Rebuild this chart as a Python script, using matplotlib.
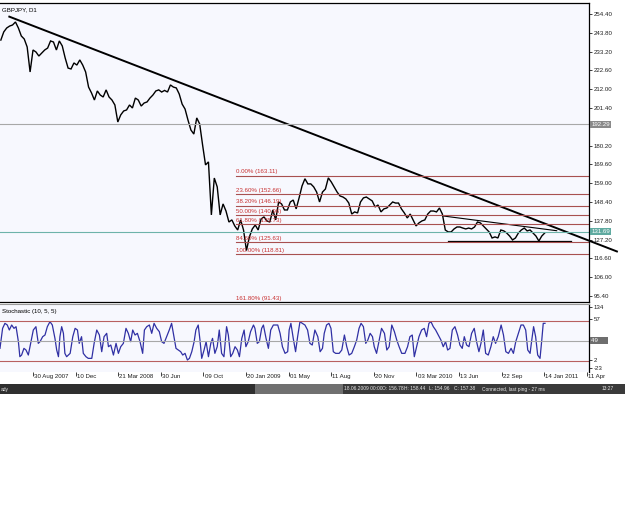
import numpy as np
import matplotlib.pyplot as plt
from matplotlib import font_manager

# GBPJPY weekly closes, first value = 11 weeks before 30 Aug 2007
price = [239.7, 244.3, 246.5, 247.6, 248.2, 249.9, 246.5, 242.0, 240.3, 235.8,
         221.7, 234.1, 233.0, 230.7, 232.4, 234.1, 235.2, 239.2, 238.6, 234.1,
         239.2, 236.4, 229.6, 223.9, 223.4, 226.8, 225.6, 228.5, 225.6, 221.7,
         213.2, 209.9, 205.9, 211.0, 208.7, 207.6, 211.6, 207.6, 205.9, 203.1,
         193.5, 197.5, 199.7, 200.3, 203.1, 201.4, 207.0, 205.9, 202.5, 204.2,
         204.8, 207.0, 208.7, 211.0, 211.6, 210.4, 211.3, 210.4, 214.4, 213.2,
         212.7, 209.3, 203.6, 200.8, 194.6, 189.0, 186.7, 195.8, 192.4, 180.5,
         169.3, 171.0, 141.1, 161.9, 156.9, 141.1, 147.3, 143.3, 137.1, 138.3,
         134.9, 132.6, 138.3, 132.6, 121.0, 128.7, 133.2, 135.4, 132.6, 138.8,
         140.0, 137.7, 137.1, 143.9, 138.3, 148.4, 147.3, 143.9, 143.9, 148.4,
         149.5, 144.5, 150.7, 157.4, 161.5, 158.6, 158.6, 156.9, 154.0, 148.4,
         154.0, 155.7, 162.0, 159.7, 156.9, 154.0, 151.8, 151.2, 150.1, 147.8,
         141.6, 142.8, 142.2, 148.4, 150.7, 151.2, 150.1, 149.0, 145.6, 146.7,
         142.8, 144.5, 145.0, 146.7, 148.4, 147.8, 147.8, 144.5, 142.2, 139.4,
         141.6, 138.3, 134.9, 136.6, 137.7, 138.3, 141.6, 143.3, 143.3, 142.8,
         145.0, 141.6, 132.6, 131.5, 131.5, 133.2, 134.3, 134.3, 133.7, 133.2,
         133.7, 133.2, 134.3, 137.1, 136.6, 134.9, 133.2, 131.5, 128.1, 128.7,
         128.1, 132.6, 132.1, 130.9, 129.2, 127.0, 128.1, 130.9, 132.6, 133.7,
         132.1, 132.6, 130.9, 129.2, 126.4, 129.2, 130.9]
weeks = np.arange(len(price)) - 11

# stochastic (10,5,5) main line, week position / value
stoch_week = [-11.3, -10.4, -9.6, -8.8, -8.1, -7.3, -6.5, -5.8, -5.0, -4.5, -3.9, -3.1, -2.4, -1.6, -0.8,
              0.1, 1.0, 1.8, 2.4, 3.3, 4.1, 4.9, 5.8, 6.6, 7.5, 8.1, 8.7, 9.2, 9.8, 10.4,
              10.9, 11.5, 12.7, 13.6, 14.4, 15.2, 15.8, 16.6, 17.2, 18.1, 18.9, 20.1, 20.9, 21.8, 22.7,
              23.5, 24.3, 25.2, 25.8, 26.6, 27.5, 28.4, 29.2, 30.0, 30.9, 31.8, 32.6, 33.4, 34.1, 34.9,
              35.7, 36.6, 37.5, 38.1, 38.9, 39.8, 40.6, 41.4, 42.3, 43.2, 44.0, 44.8, 45.7, 46.6, 47.4,
              48.2, 48.9, 49.7, 50.5, 51.2, 52.0, 52.8, 53.5, 54.3, 55.1, 55.7, 56.5, 57.1, 57.7, 58.5,
              59.2, 60.0, 60.8, 61.4, 62.2, 63.0, 63.7, 64.5, 65.3, 66.2, 66.8, 67.6, 68.3, 69.1, 69.9,
              70.6, 71.4, 72.2, 72.8, 73.6, 74.4, 75.4, 75.9, 76.7, 77.4, 78.2, 78.8, 79.7, 80.5, 81.3,
              82.2, 83.7, 84.5, 85.3, 86.2, 87.1, 87.6, 88.2, 89.0, 89.8, 90.5, 91.3, 92.1, 93.0, 93.9,
              94.7, 95.5, 96.4, 97.4, 98.2, 99.0, 99.6, 100.4, 101.2, 101.9, 102.7, 103.5, 104.7, 105.6, 106.5,
              107.3, 108.1, 109.0, 109.9, 110.7, 111.5, 112.2, 113.0, 113.8, 114.5, 115.3, 116.1, 116.7, 117.5, 118.3,
              119.2, 120.2, 121.0, 121.8, 122.7, 123.6, 124.4, 125.2, 126.1, 127.2, 128.1, 128.9, 129.7, 130.4, 131.2,
              132.0, 132.9, 133.8, 134.6, 135.4, 136.1, 136.9, 137.7, 138.6, 139.5, 140.3, 141.1, 141.8, 142.6, 143.4,
              144.3, 145.2, 146.0, 146.8, 147.5, 148.3, 149.1, 150.0, 150.9, 151.7, 152.5, 153.2, 154.0, 154.8, 155.7,
              156.6, 157.4, 158.2, 159.1, 160.1, 160.9, 161.7, 162.6, 163.5, 164.3, 165.1, 166.0, 166.9, 167.7, 168.5,
              169.2, 170.0, 170.5, 171.2, 171.9, 172.6, 173.4, 174.0, 174.5, 175.1]
stoch_val = [38.5, 68.5, 76, 73.5, 66, 73.5, 68.5, 71, 48.5, 26, 28.5, 38.5, 36, 28.5, 46,
             66, 71, 46, 48.5, 56, 58.5, 71, 78.5, 73.5, 53.5, 36, 26, 56, 71, 61,
             31, 26, 31, 56, 68.5, 66, 46, 56, 31, 26, 23.5, 23.5, 46, 66, 58.5,
             33.5, 56, 61, 41, 43.5, 28.5, 46, 31, 41, 46, 68.5, 61, 48.5, 66, 58.5,
             61, 48.5, 31, 66, 71, 73.5, 61, 76, 68.5, 63.5, 48.5, 46, 56, 66, 76,
             56, 38.5, 36, 33.5, 28.5, 31, 21, 23.5, 33.5, 48.5, 66, 73.5, 51, 23.5, 36,
             48.5, 26, 46, 53.5, 31, 41, 66, 31, 26, 71, 58.5, 26, 31, 41, 36,
             26, 53.5, 66, 41, 48.5, 63.5, 73.5, 68.5, 46, 48.5, 68.5, 73.5, 53.5, 38.5, 66,
             73.5, 73.5, 61, 41, 31, 33.5, 66, 76, 53.5, 33.5, 56, 78.5, 76, 73.5, 66,
             46, 43.5, 66, 56, 33.5, 38.5, 61, 73.5, 76, 68.5, 33.5, 31, 31, 36, 58.5,
             41, 28.5, 31, 41, 51, 68.5, 76, 71, 46, 51, 61, 56, 41, 31, 48.5,
             68.5, 61, 36, 41, 73.5, 63.5, 51, 41, 31, 31, 41, 56, 58.5, 26, 41,
             56, 66, 68.5, 56, 76, 78.5, 71, 66, 58.5, 51, 41, 48.5, 36, 38.5, 66,
             71, 58.5, 43.5, 38.5, 56, 43.5, 41, 61, 68.5, 48.5, 33.5, 46, 66, 31, 28.5,
             41, 56, 46, 56, 73.5, 58.5, 33.5, 31, 38.5, 31, 48.5, 61, 73.5, 73.5, 66,
             36, 31, 48.5, 71, 56, 28.5, 23.5, 51, 76, 76]

date_labels = ['30 Aug 2007', '10 Dec', '21 Mar 2008', '30 Jun', '09 Oct', '20 Jan 2009', '01 May',
               '11 Aug', '20 Nov', '03 Mar 2010', '13 Jun', '22 Sep', '14 Jan 2011', '11 Apr']
date_ticks = np.arange(len(date_labels)) * 14.57

price_ticks = [254.40, 243.80, 233.20, 222.60, 212.00, 201.40, 190.80, 180.20,
               169.60, 159.00, 148.40, 137.80, 127.20, 116.60, 106.00, 95.40]

# fibonacci retracement from the Jan 2009 low to the Aug 2009 high
fib_high = 163.11
fib_low = 118.81
fib_pcts = [0.0, 23.6, 38.2, 50.0, 61.8, 84.6, 100.0, 161.8]
fib_prices = [fib_high - p / 100 * (fib_high - fib_low) for p in fib_pcts]

# drawn lines (week, price)
trend_x = [-8.1, 199.7]
trend_y = [252.9, 120.5]
wedge_x = [140.3, 179.1]
wedge_y = [140.5, 132.2]
support_x = [142.0, 183.9]
support_y = [126.6, 126.6]
hline_grey = 192.29
last_price = 131.69

stoch_levels = [80, 50, 20]
stoch_tick_vals = [100.5, 82.6, 21.1, 9.1]
stoch_tick_labels = ['134', '57', '2', '-23']

status_x = [1, 344, 382, 404, 429, 454, 482, 602]
status_text = ['ady', '18.06.2009 00:00', 'O: 156.78', 'H: 158.44', 'L: 154.96', 'C: 157.38',
               'Connected, last ping - 27 ms', '13:27']

installed = {f.name for f in font_manager.fontManager.ttflist}
narrow = 'Liberation Sans Narrow' if 'Liberation Sans Narrow' in installed else 'Liberation Sans'
plt.rcParams['font.family'] = [narrow, 'DejaVu Sans']

W, H = 625, 517
fig = plt.figure(figsize=(W / 100, H / 100), dpi=100)
fig.patch.set_facecolor('white')
FS = 4.4
bg = '#f7f8fe'
ink = '#202020'


def box(x0, y0, x1, y1):
    return [x0 / W, 1 - y1 / H, (x1 - x0) / W, (y1 - y0) / H]


ax = fig.add_axes(box(0, 3, 589, 302))
ax.set_facecolor(bg)
ax.plot(weeks, price, color='black', lw=1.0, solid_joinstyle='miter')
ax.plot(trend_x, trend_y, color='black', lw=1.4, clip_on=False)
ax.plot(wedge_x, wedge_y, color='black', lw=0.8)
ax.plot(support_x, support_y, color='black', lw=0.9)
ax.axhline(hline_grey, color='#a8a8a8', lw=0.8)
ax.axhline(last_price, color='#6db3aa', lw=0.8)
for p, v in zip(fib_pcts, fib_prices):
    ax.plot([69.4, 195], [v, v], color='#a85050', lw=0.8)
    ax.annotate('%.2f%% (%.2f)' % (p, v), (69.4, v), xytext=(0, 1.2), textcoords='offset points',
                color='#c83030', fontsize=FS, ha='left', va='bottom', annotation_clip=False)
ax.set_xlim(-11.29, 190.15)
ax.set_ylim(92.0, 260.6)
ax.yaxis.tick_right()
ax.set_yticks(price_ticks)
ax.set_yticklabels(['' if t == 190.80 else '%.2f' % t for t in price_ticks])
ax.tick_params(axis='y', labelsize=FS, length=2.2, width=0.6, pad=1, colors=ink)
ax.set_xticks([])
ax.spines['left'].set_visible(False)
for s in ['top', 'right', 'bottom']:
    ax.spines[s].set_linewidth(0.9)
ax.text(0.003, 0.985, 'GBPJPY, D1', transform=ax.transAxes, fontsize=FS, va='top', ha='left')
ytr = ax.get_yaxis_transform()
ax.text(1.004, hline_grey, '192.29', transform=ytr, fontsize=FS, color='white', va='center', ha='left',
        bbox=dict(boxstyle='square,pad=0.15', fc='#8a8a8a', ec='none'), clip_on=False, zorder=5)
ax.text(1.004, last_price, '131.69', transform=ytr, fontsize=FS, color='white', va='center', ha='left',
        bbox=dict(boxstyle='square,pad=0.15', fc='#5faaa0', ec='none'), clip_on=False, zorder=5)

sx = fig.add_axes(box(0, 304, 589, 372))
sx.set_facecolor(bg)
sx.plot(stoch_week, stoch_val, color='#3030a4', lw=0.9)
for lv, c in zip(stoch_levels, ['#b86060', '#a8a8a8', '#b86060']):
    sx.axhline(lv, color=c, lw=0.8)
sx.set_xlim(-11.29, 190.15)
sx.set_ylim(3.05, 105.0)
sx.yaxis.tick_right()
sx.set_yticks(stoch_tick_vals)
sx.set_yticklabels(stoch_tick_labels)
sx.tick_params(axis='y', labelsize=FS, length=2.2, width=0.6, pad=1, colors=ink)
sx.set_xticks(date_ticks)
sx.set_xticklabels([])
sx.tick_params(axis='x', length=3, width=0.6, colors=ink)
for d, lbl in zip(date_ticks, date_labels):
    sx.annotate(lbl, (d, 0), xycoords=('data', 'axes fraction'), xytext=(0.8, -1.3),
                textcoords='offset points', fontsize=FS, ha='left', va='top', color=ink,
                annotation_clip=False)
sx.spines['left'].set_visible(False)
sx.spines['bottom'].set_visible(False)
sx.spines['top'].set_color('#9a9a9a')
sx.spines['right'].set_linewidth(0.9)
sx.text(0.003, 0.93, 'Stochastic (10, 5, 5)', transform=sx.transAxes, fontsize=FS, va='top', ha='left')
sx.text(1.004, 50, '49     ', transform=sx.get_yaxis_transform(), fontsize=FS, color='white', va='center',
        ha='left', bbox=dict(boxstyle='square,pad=0.15', fc='#6e6e6e', ec='none'), clip_on=False, zorder=5)

# status bar
bar_parts = [(0, 255, '#2f2f2f'), (255, 343, '#707070'), (343, 625, '#3a3a3a')]
for x0, x1, c in bar_parts:
    fig.patches.append(plt.Rectangle((x0 / W, 1 - 394 / H), (x1 - x0) / W, 10 / H,
                                     transform=fig.transFigure, fc=c, ec='none'))
for x, t in zip(status_x, status_text):
    fig.text(x / W, 1 - 389 / H, t, fontsize=FS - 0.9, color='#e8e8e8', va='center', ha='left')

fig.savefig('out.png', dpi=100, facecolor='white')
